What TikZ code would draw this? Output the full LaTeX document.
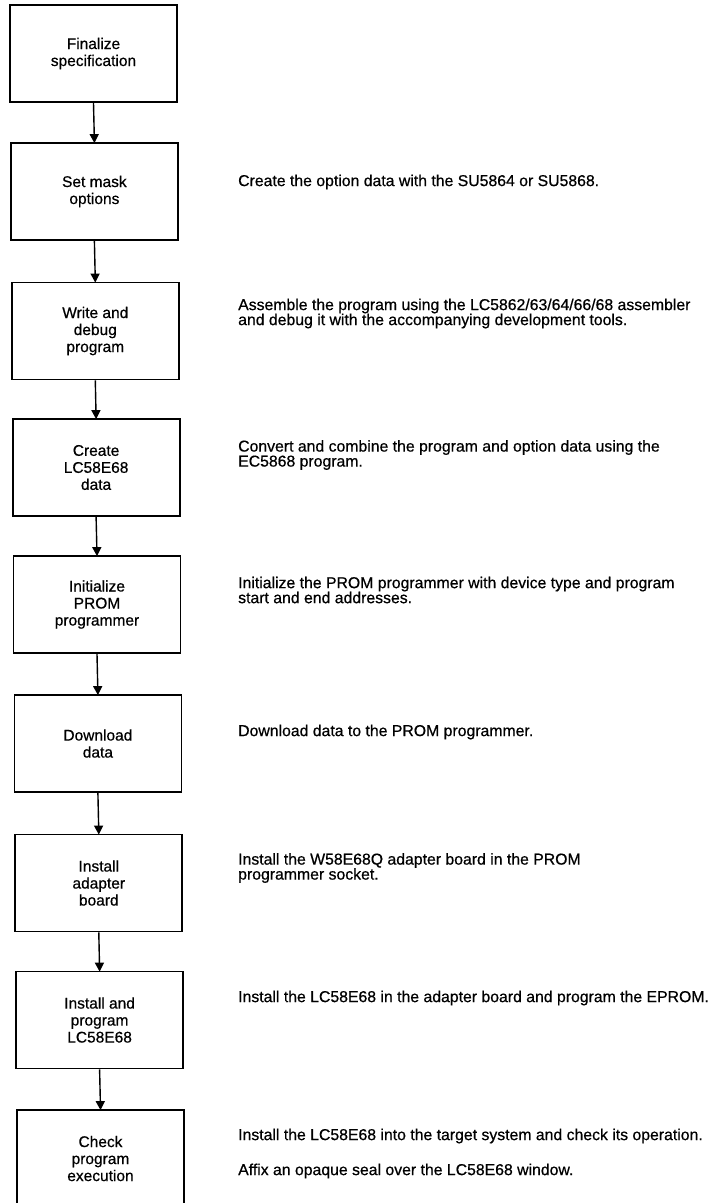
\documentclass[tikz,border=0pt]{standalone}
\usepackage{fontspec}
\setmainfont{Liberation Sans}[FakeBold=0.6]
\usetikzlibrary{arrows.meta}
\begin{document}
\begin{tikzpicture}[x=1pt,y=-1pt,
  stepbox/.style={draw=black,line width=1.8pt,rectangle,minimum width=167pt,minimum height=97pt,
    align=center,inner sep=0pt,font=\fontsize{15.5}{17}\selectfont,text=black},
  desc/.style={anchor=west,align=left,inner sep=0pt,font=\fontsize{15.8}{15}\selectfont,text=black},
  flow/.style={draw=black,line width=1.4pt,-{Triangle[length=9pt,width=9pt]},shorten >=-1pt}]
\useasboundingbox (0,0) rectangle (714,1203);
\node[stepbox] (b1) at (93.5,53.5) {Finalize\\specification};
\node[stepbox] (b2) at (94.4,191.5) {Set mask\\options};
\node[stepbox] (b3) at (95.3,331) {Write and\\debug\\program};
\node[stepbox] (b4) at (96.1,467.5) {Create\\LC58E68\\data};
\node[stepbox] (b5) at (97,604.5) {Initialize\\PROM\\programmer};
\node[stepbox] (b6) at (97.9,743.5) {Download\\data};
\node[stepbox] (b7) at (98.8,883) {Install\\adapter\\board};
\node[stepbox] (b8) at (99.6,1020) {Install and\\program\\LC58E68};
\node[stepbox] (b9) at (100.5,1158.5) {Check\\program\\execution};
\foreach \a/\b in {b1/b2,b2/b3,b3/b4,b4/b5,b5/b6,b6/b7,b7/b8,b8/b9}
  \draw[flow] (\a.south) -- (\b.north);
\node[desc] (d2) at (238,182) {Create the option data with the SU5864 or SU5868.};
\node[desc] (d3) at (238,313.5) {Assemble the program using the LC5862/63/64/66/68 assembler\\and debug it with the accompanying development tools.};
\node[desc] (d4) at (238,455) {Convert and combine the program and option data using the\\EC5868 program.};
\node[desc] (d5) at (238,590) {Initialize the PROM programmer with device type and program\\start and end addresses.};
\node[desc] (d6) at (238,732) {Download data to the PROM programmer.};
\node[desc] (d7) at (238,868) {Install the W58E68Q adapter board in the PROM\\programmer socket.};
\node[desc] (d8) at (238,998) {Install the LC58E68 in the adapter board and program the EPROM.};
\node[desc] (d9a) at (238,1136) {Install the LC58E68 into the target system and check its operation.};
\node[desc] (d9b) at (238,1171) {Affix an opaque seal over the LC58E68 window.};
\end{tikzpicture}
\end{document}
